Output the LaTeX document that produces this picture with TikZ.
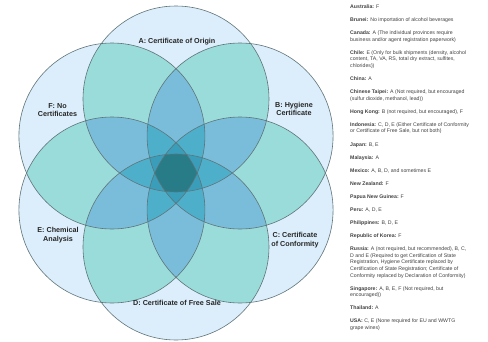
\documentclass[tikz,border=0pt]{standalone}
\usepackage{fontspec}
\setmainfont{Liberation Sans}
\usetikzlibrary{calc}

\definecolor{one}{HTML}{DCEEFB}
\definecolor{two}{HTML}{9ADCD9}
\definecolor{three}{HTML}{7ABDDA}
\definecolor{four}{HTML}{4EAFCB}
\definecolor{five}{HTML}{3A9EBA}
\definecolor{six}{HTML}{287C88}
\definecolor{ringgray}{HTML}{5F7479}

\begin{document}
\begin{tikzpicture}[x=1pt,y=1pt,
  ring/.style={draw=ringgray,line width=0.6pt},
  setlabel/.style={font=\fontsize{7.2}{8.8}\selectfont\bfseries,align=center,text=black!85},
  countries/.style={font=\fontsize{5.2}{6.55}\selectfont,align=left,anchor=north west,inner sep=0pt,text=black!75}]
\useasboundingbox (-176,-168) rectangle (312,173);
\def\rad{93}
\coordinate[] (O) at (0,0);
\coordinate[] (A) at (90:74);
\coordinate[] (B) at (30:74);
\coordinate[] (C) at (-30:74);
\coordinate[] (D) at (-90:74);
\coordinate[] (E) at (-150:74);
\coordinate[] (F) at (150:74);
% one circle
\foreach \ca in {A,B,C,D,E,F}
	\fill[one] (\ca) circle (\rad);
% two circles
\foreach \ca [count=\i] in {A,B,C,D,E,F}{
	\foreach \cb [count=\j] in {A,B,C,D,E,F}{
		\ifnum\j>\i
		\begin{scope}
			\clip (\ca) circle (\rad);
			\fill[two] (\cb) circle (\rad);
		\end{scope}
		\fi}}
% three circles
\foreach \ca [count=\i] in {A,B,C,D,E,F}{
	\foreach \cb [count=\j] in {A,B,C,D,E,F}{
		\foreach \cc [count=\k] in {A,B,C,D,E,F}{
			\ifnum\j>\i \ifnum\k>\j
			\begin{scope}
				\clip (\ca) circle (\rad);
				\clip (\cb) circle (\rad);
				\fill[three] (\cc) circle (\rad);
			\end{scope}
			\fi\fi}}}
% four circles: all but two
\foreach \ca [count=\i] in {A,B,C,D,E,F}{
	\foreach \cb [count=\j] in {A,B,C,D,E,F}{
		\ifnum\j>\i
		\begin{scope}
			\foreach \cc [count=\k] in {A,B,C,D,E,F}{
				\ifnum\k=\i\else\ifnum\k=\j\else
				\clip (\cc) circle (\rad);
				\fi\fi}
			\fill[four] (O) circle (200);
		\end{scope}
		\fi}}
% five circles: all but one
\foreach \ca [count=\i] in {A,B,C,D,E,F}{
	\begin{scope}
		\foreach \cc [count=\k] in {A,B,C,D,E,F}{
			\ifnum\k=\i\else
			\clip (\cc) circle (\rad);
			\fi}
		\fill[five] (O) circle (200);
	\end{scope}}
% six circles
\begin{scope}
	\foreach \cc in {A,B,C,D,E}
		\clip (\cc) circle (\rad);
	\fill[six] (F) circle (\rad);
\end{scope}
\foreach \ca in {A,B,C,D,E,F}
	\draw[ring] (\ca) circle (\rad);

\node[setlabel] (labA) at (1,131) {A: Certificate of Origin};
\node[setlabel] (labB) at (118,64) {B: Hygiene\\Certificate};
\node[setlabel] (labC) at (119,-67) {C: Certificate\\of Conformity};
\node[setlabel] (labD) at (1,-130) {D: Certificate of Free Sale};
\node[setlabel] (labE) at (-118,-62) {E: Chemical\\Analysis};
\node[setlabel] (labF) at (-118.5,63) {F: No\\Certificates};

\node[countries] (list) at (174,168.5) {%
\textbf{Australia:} F\\[6.55pt]
\textbf{Brunei:} No importation of alcohol beverages\\[6.55pt]
\textbf{Canada:} A (The individual provinces require\\
business and/or agent registration paperwork)\\[6.55pt]
\textbf{Chile:} E (Only for bulk shipments (density, alcohol\\
content, TA, VA, RS, total dry extract, sulfites,\\
chlorides))\\[6.55pt]
\textbf{China:} A\\[6.55pt]
\textbf{Chinese Taipei:} A (Not required, but encouraged\\
(sulfur dioxide, methanol, lead))\\[6.55pt]
\textbf{Hong Kong:} B (not required, but encouraged), F\\[6.55pt]
\textbf{Indonesia:} C, D, E (Either Certificate of Conformity\\
or Certificate of Free Sale, but not both)\\[6.55pt]
\textbf{Japan:} B, E\\[6.55pt]
\textbf{Malaysia:} A\\[6.55pt]
\textbf{Mexico:} A, B, D, and sometimes E\\[6.55pt]
\textbf{New Zealand:} F\\[6.55pt]
\textbf{Papua New Guinea:} F\\[6.55pt]
\textbf{Peru:} A, D, E\\[6.55pt]
\textbf{Philippines:} B, D, E\\[6.55pt]
\textbf{Republic of Korea:} F\\[6.55pt]
\textbf{Russia:} A (not required, but recommended), B, C,\\
D and E (Required to get Certification of State\\
Registration, Hygiene Certificate replaced by\\
Certification of State Registration; Certificate of\\
Conformity replaced by Declaration of Conformity)\\[6.55pt]
\textbf{Singapore:} A, B, E, F (Not required, but\\
encouraged))\\[6.55pt]
\textbf{Thailand:} A\\[6.55pt]
\textbf{USA:} C, E (None required for EU and WWTG\\
grape wines)};
\end{tikzpicture}
\end{document}
